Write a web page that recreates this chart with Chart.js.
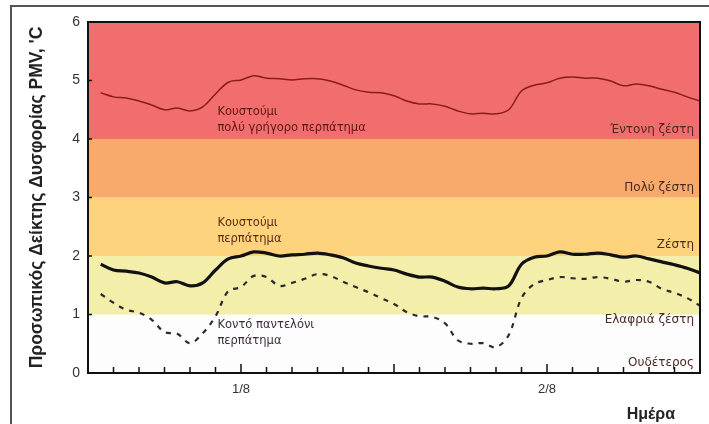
<!DOCTYPE html>
<html>
<head>
<meta charset="utf-8">
<script src="https://cdn.jsdelivr.net/npm/chart.js@4.4.0/dist/chart.umd.min.js"></script>
<style>
    html, body { margin: 0; padding: 0; background: #fff; }
    #wrap { position: relative; width: 709px; height: 424px; overflow: hidden; }
    #frame { position: absolute; left: 10px; top: 5px; width: 720px; height: 440px; border: 2px solid #555; }
    canvas { position: absolute; left: 0; top: 0; }
</style>
</head>
<body>
<div id="wrap">
    <div id="frame"></div>
    <canvas id="pmvChart" width="709" height="424"></canvas>
</div>
<script>
// --- Data ---
const hours = [1, 2, 3, 4, 5, 6, 7, 8, 9, 10, 11, 12, 13, 14, 15, 16, 17, 18, 19, 20, 21, 22, 23, 24,
    25, 26, 27, 28, 29, 30, 31, 32, 33, 34, 35, 36, 37, 38, 39, 40, 41, 42, 43, 44, 45, 46, 47, 48];

// Κουστούμι, πολύ γρήγορο περπάτημα
const suitFast = [4.79, 4.72, 4.70, 4.65, 4.58, 4.50, 4.53, 4.48, 4.55, 4.77, 4.97, 5.01,
    5.08, 5.04, 5.03, 5.01, 5.03, 5.03, 4.99, 4.92, 4.84, 4.80, 4.79, 4.74,
    4.65, 4.60, 4.60, 4.56, 4.48, 4.43, 4.44, 4.43, 4.50, 4.82, 4.92, 4.96,
    5.04, 5.06, 5.04, 5.04, 4.99, 4.91, 4.94, 4.91, 4.85, 4.80, 4.72, 4.65];

// Κουστούμι, περπάτημα
const suitWalk = [1.86, 1.76, 1.74, 1.71, 1.64, 1.54, 1.56, 1.49, 1.54, 1.76, 1.95, 2.00,
    2.07, 2.05, 2.00, 2.02, 2.03, 2.05, 2.02, 1.97, 1.88, 1.83, 1.79, 1.76,
    1.69, 1.64, 1.64, 1.57, 1.47, 1.44, 1.45, 1.44, 1.49, 1.86, 1.98, 2.00,
    2.07, 2.03, 2.03, 2.05, 2.02, 1.98, 2.00, 1.95, 1.90, 1.85, 1.79, 1.71];

// Κοντό παντελόνι, περπάτημα
const shortsWalk = [1.35, 1.20, 1.08, 1.03, 0.91, 0.70, 0.67, 0.51, 0.68, 0.97, 1.40, 1.47,
    1.66, 1.64, 1.49, 1.54, 1.61, 1.69, 1.66, 1.56, 1.47, 1.38, 1.28, 1.18,
    1.04, 0.97, 0.96, 0.85, 0.56, 0.50, 0.51, 0.44, 0.65, 1.28, 1.52, 1.59,
    1.64, 1.62, 1.61, 1.64, 1.61, 1.56, 1.59, 1.56, 1.44, 1.37, 1.28, 1.15];

// Comfort bands (PMV) and x-axis day labels
const bandEdges = [0, 1, 2, 3, 4, 6];
const bandNames = ['Ουδέτερος', 'Ελαφριά ζέστη', 'Ζέστη', 'Πολύ ζέστη', 'Έντονη ζέστη'];
const dayTicks = [12, 36];
const dayLabels = ['1/8', '2/8'];

// --- Styles ---
const bandColors = ['#fdfdfd', '#f3eea9', '#fdd47d', '#f7aa6c', '#f26e6e'];
const bandLabelShift = [-10, 5, -11, -10, -9];   // px from each band's lower edge

const notes = [
    { lines: ['Κουστούμι', 'πολύ γρήγορο περπάτημα'], x: 10.15, y: 4.46, color: '#5e1512' },
    { lines: ['Κουστούμι', 'περπάτημα'], x: 10.15, y: 2.56, color: '#5a2d12' },
    { lines: ['Κοντό παντελόνι', 'περπάτημα'], x: 10.15, y: 0.82, color: '#3c2c3c' }
];

const toPoints = values => hours.map((h, i) => ({ x: h, y: values[i] }));

// Bands, frame, inward ticks and in-plot texts
const decorPlugin = {
    id: 'decor',
    beforeDatasetsDraw(chart) {
        const { ctx, chartArea: a, scales: { y } } = chart;
        ctx.save();
        bandColors.forEach((c, i) => {
            const top = y.getPixelForValue(bandEdges[i + 1]);
            const bot = y.getPixelForValue(bandEdges[i]);
            ctx.fillStyle = c;
            ctx.fillRect(a.left, top, a.right - a.left, bot - top);
        });
        ctx.font = '12px "DejaVu Sans"';
        ctx.fillStyle = '#4a2a22';
        ctx.textAlign = 'right';
        ctx.textBaseline = 'middle';
        bandNames.forEach((name, i) => {
            ctx.fillText(name, a.right - 6, y.getPixelForValue(bandEdges[i]) + bandLabelShift[i]);
        });
        ctx.restore();
    },
    afterDatasetsDraw(chart) {
        const { ctx, chartArea: a, scales: { x, y } } = chart;
        ctx.save();

        // notes next to the curves
        ctx.font = '11.5px "DejaVu Sans"';
        ctx.textAlign = 'left';
        ctx.textBaseline = 'middle';
        notes.forEach(n => {
            ctx.fillStyle = n.color;
            n.lines.forEach((line, k) => {
                ctx.fillText(line, x.getPixelForValue(n.x), y.getPixelForValue(n.y) + k * 15.5);
            });
        });

        // inward tick marks
        ctx.strokeStyle = '#111';
        ctx.lineWidth = 1.5;
        ctx.beginPath();
        x.ticks.forEach(t => {
            if (t.value <= x.min || t.value >= x.max) return;
            const px = x.getPixelForValue(t.value);
            const len = t.value % 12 === 0 ? 9 : 6;
            ctx.moveTo(px, a.bottom);
            ctx.lineTo(px, a.bottom - len);
        });
        y.ticks.forEach(t => {
            if (t.value <= y.min || t.value >= y.max) return;
            const py = y.getPixelForValue(t.value);
            ctx.moveTo(a.left, py);
            ctx.lineTo(a.left + 4, py);
        });
        ctx.stroke();

        // plot frame
        ctx.lineWidth = 2;
        ctx.strokeStyle = '#111';
        ctx.strokeRect(a.left, a.top, a.right - a.left, a.bottom - a.top);

        // x-axis title
        ctx.font = 'bold 16px "Liberation Sans"';
        ctx.fillStyle = '#222';
        ctx.textAlign = 'right';
        ctx.textBaseline = 'alphabetic';
        ctx.fillText('Ημέρα', a.right - 25, 419);
        ctx.restore();
    }
};

const ctx = document.getElementById('pmvChart').getContext('2d');
const pmvChart = new Chart(ctx, {
    type: 'line',
    data: {
        datasets: [{
            label: 'Κουστούμι, πολύ γρήγορο περπάτημα',
            data: toPoints(suitFast),
            borderColor: '#8a1c1c',
            borderWidth: 1.5,
            tension: 0.35
        }, {
            label: 'Κουστούμι, περπάτημα',
            data: toPoints(suitWalk),
            borderColor: '#111',
            borderWidth: 3.2,
            tension: 0.35
        }, {
            label: 'Κοντό παντελόνι, περπάτημα',
            data: toPoints(shortsWalk),
            borderColor: '#2a2a2a',
            borderWidth: 2.2,
            borderDash: [5, 6],
            tension: 0.35
        }]
    },
    options: {
        responsive: false,
        animation: false,
        layout: { padding: { top: 22, right: 6, left: 0, bottom: 0 } },
        elements: { point: { radius: 0 } },
        plugins: {
            legend: { display: false },
            tooltip: { enabled: false }
        },
        scales: {
            x: {
                type: 'linear',
                min: 0,
                max: 48,
                afterFit: scale => { scale.height = 51; },
                grid: { display: false, drawTicks: false },
                border: { display: false },
                ticks: {
                    stepSize: 2,
                    autoSkip: false,
                    maxRotation: 0,
                    padding: 9,
                    color: '#333',
                    font: { family: 'Liberation Sans', size: 13 },
                    callback: v => {
                        const i = dayTicks.indexOf(v);
                        return i >= 0 ? dayLabels[i] : '';
                    }
                }
            },
            y: {
                min: 0,
                max: 6,
                afterFit: scale => { scale.width = 88; },
                grid: { display: false, drawTicks: false },
                border: { display: false },
                ticks: {
                    stepSize: 1,
                    padding: 8,
                    color: '#333',
                    font: { family: 'Liberation Sans', size: 14 }
                },
                title: {
                    display: true,
                    text: "Προσωπικός Δείκτης Δυσφορίας PMV, 'C",
                    color: '#222',
                    font: { family: 'Liberation Sans', size: 17.5, weight: 'bold' },
                    padding: { top: 27, bottom: 0 }
                }
            }
        }
    },
    plugins: [decorPlugin]
});
</script>
</body>
</html>
